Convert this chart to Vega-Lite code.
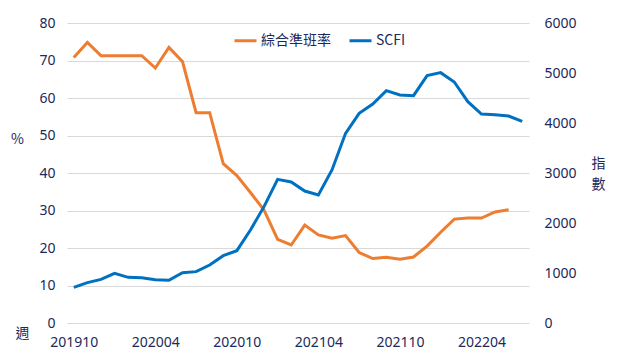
{
  "$schema": "https://vega.github.io/schema/vega-lite/v6.json",
  "width": 462,
  "height": 300,
  "autosize": {"type": "none"},
  "padding": {"left": 67, "top": 23, "right": 92, "bottom": 39},
  "background": "white",
  "config": {
    "view": {"stroke": null},
    "font": "'Noto Sans', 'Noto Sans CJK TC'",
    "axis": {"labelColor": "#1b2a5c", "titleColor": "#1b2a5c", "labelFontSize": 14, "titleFontSize": 14, "titleFontWeight": "normal", "labelFont": "'Noto Sans', 'Noto Sans CJK TC'", "titleFont": "'Noto Sans CJK TC'"},
    "legend": {"labelColor": "#1b2a5c", "labelFontSize": 14, "labelFont": "'Noto Sans CJK TC', 'Noto Sans'"}
  },
  "data": {"values": [
    {"month": "201910", "rate": 70.8, "scfi": 713},
    {"month": "201911", "rate": 74.8, "scfi": 807},
    {"month": "201912", "rate": 71.3, "scfi": 873},
    {"month": "202001", "rate": 71.3, "scfi": 993},
    {"month": "202002", "rate": 71.3, "scfi": 913},
    {"month": "202003", "rate": 71.3, "scfi": 907},
    {"month": "202004", "rate": 68.0, "scfi": 867},
    {"month": "202005", "rate": 73.5, "scfi": 853},
    {"month": "202006", "rate": 69.7, "scfi": 1007},
    {"month": "202007", "rate": 56.1, "scfi": 1027},
    {"month": "202008", "rate": 56.1, "scfi": 1160},
    {"month": "202009", "rate": 42.5, "scfi": 1347},
    {"month": "202010", "rate": 39.3, "scfi": 1447},
    {"month": "202011", "rate": 34.8, "scfi": 1860},
    {"month": "202012", "rate": 30.1, "scfi": 2327},
    {"month": "202101", "rate": 22.3, "scfi": 2873},
    {"month": "202102", "rate": 20.8, "scfi": 2820},
    {"month": "202103", "rate": 26.1, "scfi": 2640},
    {"month": "202104", "rate": 23.5, "scfi": 2560},
    {"month": "202105", "rate": 22.6, "scfi": 3060},
    {"month": "202106", "rate": 23.3, "scfi": 3793},
    {"month": "202107", "rate": 18.8, "scfi": 4193},
    {"month": "202108", "rate": 17.2, "scfi": 4380},
    {"month": "202109", "rate": 17.5, "scfi": 4647},
    {"month": "202110", "rate": 17.0, "scfi": 4560},
    {"month": "202111", "rate": 17.6, "scfi": 4547},
    {"month": "202112", "rate": 20.5, "scfi": 4947},
    {"month": "202201", "rate": 24.2, "scfi": 5007},
    {"month": "202202", "rate": 27.7, "scfi": 4820},
    {"month": "202203", "rate": 28.0, "scfi": 4427},
    {"month": "202204", "rate": 28.0, "scfi": 4180},
    {"month": "202205", "rate": 29.6, "scfi": 4167},
    {"month": "202206", "rate": 30.2, "scfi": 4140},
    {"month": "202207", "rate": null, "scfi": 4033}
  ]},
  "encoding": {
    "x": {
      "field": "month", "type": "ordinal", "sort": null,
      "scale": {"type": "point", "padding": 0.5},
      "axis": {
        "title": "週", "titleAngle": 0, "titleX": -45, "titleY": 10, "titleAlign": "center", "titleBaseline": "middle",
        "values": ["201910", "202004", "202010", "202104", "202110", "202204"],
        "labelAngle": 0, "ticks": false, "domain": false, "labelPadding": 12, "grid": false
      }
    }
  },
  "layer": [
    {
      "mark": {"type": "line", "strokeWidth": 3},
      "encoding": {
        "y": {
          "field": "rate", "type": "quantitative",
          "scale": {"domain": [0, 80]},
          "axis": {
            "title": "%", "titleAngle": 0, "titleX": -50, "titleY": 116, "titleAlign": "center", "titleBaseline": "middle",
            "values": [0, 10, 20, 30, 40, 50, 60, 70, 80],
            "ticks": false, "domain": false, "labelPadding": 12, "grid": true, "gridColor": "#d9d9d9", "gridWidth": 1.2
          }
        },
        "color": {
          "datum": "綜合準班率", "type": "nominal",
          "scale": {"domain": ["綜合準班率", "SCFI"], "range": ["#ED7D31", "#0070C0"]},
          "legend": {
            "title": null, "orient": "none", "direction": "horizontal", "legendX": 166, "legendY": 5,
            "symbolType": "stroke", "symbolSize": 484, "symbolStrokeWidth": 3, "labelOffset": 3, "columnPadding": 12
          }
        }
      }
    },
    {
      "mark": {"type": "line", "strokeWidth": 3},
      "encoding": {
        "y": {
          "field": "scfi", "type": "quantitative",
          "scale": {"domain": [0, 6000]},
          "axis": {
            "orient": "right", "title": ["指", "數"], "titleAngle": 0, "titleX": 69, "titleY": 133, "titleAlign": "center", "titleBaseline": "top", "titleLineHeight": 21,
            "values": [0, 1000, 2000, 3000, 4000, 5000, 6000], "format": "d",
            "ticks": false, "domain": false, "labelPadding": 15, "grid": false
          }
        },
        "color": {"datum": "SCFI", "type": "nominal"}
      }
    }
  ],
  "resolve": {"scale": {"y": "independent"}}
}
